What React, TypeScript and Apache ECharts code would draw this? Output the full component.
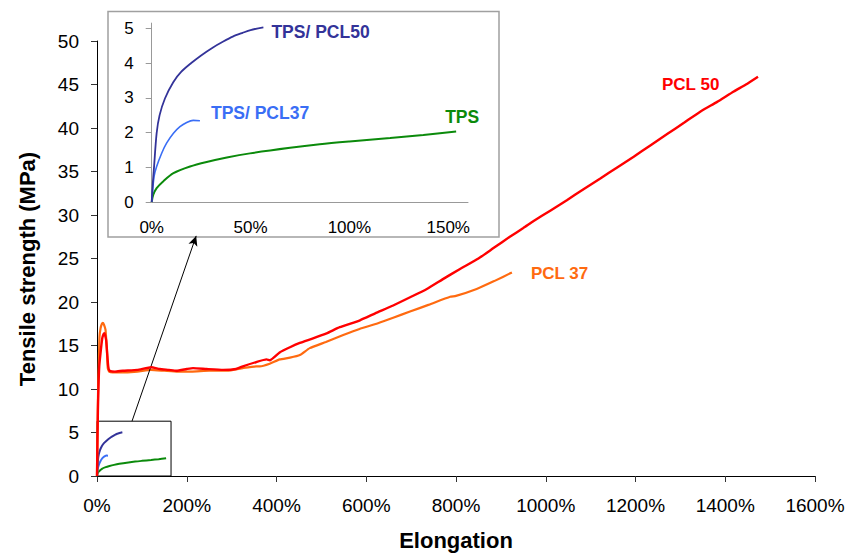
import React, { useEffect, useRef } from "react";
import * as echarts from "echarts";

// Axis ticks
const mainXTicks = [0, 200, 400, 600, 800, 1000, 1200, 1400, 1600];
const mainYTicks = [0, 5, 10, 15, 20, 25, 30, 35, 40, 45, 50];
const insetXTicks = [0, 50, 100, 150];
const insetYTicks = [0, 1, 2, 3, 4, 5];

// Stress-strain curves: [elongation %, tensile strength MPa]
const pcl50: [number, number][] = [
  [0, 0], [1, 4], [2, 7.5], [3.3, 10.3], [5, 12.6], [7.8, 14.1], [11.6, 15.8], [14.5, 16.3], [16.7, 16.4],
  [18.5, 16.1], [20.5, 15.6], [22.7, 14.1], [25, 12.6], [28, 12.1], [40, 12.0], [57.6, 12.1],
  [90, 12.2], [121, 12.5], [139.5, 12.3], [160, 12.2], [176.8, 12.1], [200, 12.3], [214, 12.4],
  [244, 12.3], [281, 12.2], [310, 12.3], [325, 12.6], [355, 13.1], [377.7, 13.4], [385, 13.3],
  [407, 14.2], [430, 14.8], [452, 15.3], [480, 15.8], [511.6, 16.4], [541, 17.1], [586, 17.9],
  [620, 18.7], [660, 19.6], [700, 20.6], [735, 21.5], [770, 22.6], [809, 23.8], [850, 25.0],
  [883.5, 26.2], [920, 27.5], [950, 28.5], [973, 29.3], [1010, 30.5], [1047, 31.7],
  [1085, 33.0], [1121.6, 34.2], [1160, 35.5], [1196, 36.7], [1233, 38.0], [1270.5, 39.3],
  [1308, 40.6], [1345, 41.9], [1382, 43.0], [1419, 44.2], [1446, 45.0], [1473, 45.9],
];

const pcl37: [number, number][] = [
  [0, 0], [1, 4.5], [2, 8.5], [3, 11.2], [4, 13.0], [5.6, 16.0], [8, 17.0], [11, 17.5], [13, 17.6],
  [15.5, 17.4], [19, 16.8], [22, 14.5], [24, 12.4], [27, 12.0], [50, 11.9], [90, 12.0],
  [120, 12.2], [150, 12.1], [180, 12.0], [210, 12.0], [250, 12.1], [290, 12.1], [325, 12.4],
  [355, 12.6], [362.7, 12.6], [385, 12.9], [407, 13.4], [430, 13.6], [452, 13.9], [474, 14.7],
  [510, 15.4], [548.7, 16.2], [585, 16.9], [623, 17.5], [660, 18.2], [697.5, 18.9],
  [740, 19.7], [787, 20.6], [800, 20.7], [846, 21.5], [885, 22.4], [924.6, 23.4],
];

const tpsPcl50: [number, number][] = [
  [0, 0], [0.5, 0.5], [1.2, 1.02], [2.5, 1.98], [4, 2.5], [6.7, 2.98], [10.9, 3.45], [15, 3.75],
  [20, 4.0], [25, 4.22], [31, 4.45], [36.2, 4.62], [41, 4.76], [46, 4.87], [50, 4.95], [56.5, 5.03],
];

const tpsPcl37: [number, number][] = [
  [0, 0], [1.2, 0.74], [2.5, 1.02], [5.1, 1.41], [7.6, 1.7], [11, 1.98], [14.3, 2.17],
  [17.7, 2.29], [21, 2.35], [24.4, 2.34],
];

const tps: [number, number][] = [
  [0, 0], [0.8, 0.21], [2.5, 0.4], [5.9, 0.6], [11, 0.83], [19.4, 1.02], [27.8, 1.15],
  [38, 1.28], [49.7, 1.4], [70, 1.56], [85, 1.66], [100, 1.74], [120.6, 1.84], [137.4, 1.93],
  [154, 2.03],
];

const FONT = "'Liberation Sans', Arial, Helvetica, sans-serif";
const RED = "#ff0000";
const ORANGE = "#ff6a10";
const NAVY = "#333399";
const BLUE = "#3a6ef5";
const GREEN = "#0b8a0b";

export default function App() {
  const ref = useRef<HTMLDivElement | null>(null);

  useEffect(() => {
    if (!ref.current) return;
    const chart = echarts.init(ref.current, null, { renderer: "svg" });

    const mainLabel = { fontFamily: FONT, fontSize: 19, color: "#000" };
    const insetLabel = { fontFamily: FONT, fontSize: 17, color: "#000" };
    const titleStyle = { fontFamily: FONT, fontSize: 22, fontWeight: "bold" as const, color: "#000" };

    const endLab = (text: string, color: string, offset: [number, number], size: number) => ({
      show: true,
      formatter: text,
      color,
      fontFamily: FONT,
      fontWeight: "bold" as const,
      fontSize: size,
      offset,
    });

    const curve = { type: "line" as const, showSymbol: false, smooth: 0.3 };

    chart.setOption({
      animation: false,
      backgroundColor: "#fff",
      textStyle: { fontFamily: FONT },
      grid: [
        { left: 97, right: 43, top: 41, bottom: 75 },
        { left: 151.7, right: 390, top: 23.1, bottom: 354 },
      ],
      xAxis: [
        {
          gridIndex: 0,
          type: "value",
          min: 0,
          max: 1600,
          interval: 200,
          name: "Elongation",
          nameLocation: "middle",
          nameGap: 53,
          nameTextStyle: titleStyle,
          splitLine: { show: false },
          axisLine: { lineStyle: { color: "#000", width: 1 } },
          axisTick: { show: true, length: 6, lineStyle: { color: "#333" }, customValues: mainXTicks },
          axisLabel: { ...mainLabel, margin: 20, customValues: mainXTicks, formatter: (v: number) => `${v}%` },
        },
        {
          gridIndex: 1,
          type: "value",
          min: 0,
          max: 160,
          splitLine: { show: false },
          axisLine: { lineStyle: { color: "#999", width: 1 } },
          axisTick: { show: false },
          axisLabel: { ...insetLabel, margin: 17, customValues: insetXTicks, formatter: (v: number) => `${v}%` },
        },
      ],
      yAxis: [
        {
          gridIndex: 0,
          type: "value",
          min: 0,
          max: 50,
          interval: 5,
          splitLine: { show: false },
          axisLine: { show: true, lineStyle: { color: "#000", width: 1 } },
          axisTick: { show: true, length: 6, lineStyle: { color: "#333" }, customValues: mainYTicks },
          axisLabel: { ...mainLabel, margin: 18, customValues: mainYTicks },
        },
        {
          gridIndex: 1,
          type: "value",
          min: 0,
          max: 5.15,
          splitLine: { show: false },
          axisLine: { show: true, lineStyle: { color: "#999", width: 1 } },
          axisTick: { show: true, length: 6, lineStyle: { color: "#999" }, customValues: insetYTicks },
          axisLabel: { ...insetLabel, margin: 18, customValues: insetYTicks },
        },
      ],
      graphic: [
        {
          type: "rect",
          z: -10,
          shape: { x: 108, y: 11.5, width: 391, height: 225.5 },
          style: { fill: "#fff", stroke: "#a0a0a0", lineWidth: 1.5 },
        },
        {
          type: "text",
          x: 27,
          y: 269,
          rotation: Math.PI / 2,
          style: {
            text: "Tensile strength (MPa)",
            fill: "#000",
            font: `bold 22px ${FONT}`,
            align: "center",
            verticalAlign: "middle",
          },
        },
      ],
      series: [
        // low-strain curves at full scale
        {
          ...curve, xAxisIndex: 0, yAxisIndex: 0, data: tps,
          lineStyle: { color: GREEN, width: 2 }, z: 3,
          markArea: {
            silent: true,
            itemStyle: { color: "rgba(0,0,0,0)", borderColor: "#000", borderWidth: 1 },
            data: [[{ coord: [0, 0] }, { coord: [165, 6.3] }]],
          },
          markLine: {
            silent: true,
            symbol: ["none", "arrow"],
            symbolSize: [7, 10],
            label: { show: false },
            lineStyle: { color: "#000", width: 1, type: "solid" },
            data: [[{ coord: [78, 6.3] }, { coord: [221, 27.6] }]],
          },
        },
        { ...curve, xAxisIndex: 0, yAxisIndex: 0, data: tpsPcl37, lineStyle: { color: BLUE, width: 2 }, z: 3 },
        { ...curve, xAxisIndex: 0, yAxisIndex: 0, data: tpsPcl50, lineStyle: { color: NAVY, width: 2 }, z: 3 },
        {
          ...curve, name: "PCL 37", xAxisIndex: 0, yAxisIndex: 0, data: pcl37, smooth: 0.15,
          lineStyle: { color: ORANGE, width: 2.2 }, z: 4,
          endLabel: endLab("PCL 37", ORANGE, [11, 1], 17),
        },
        {
          ...curve, name: "PCL 50", xAxisIndex: 0, yAxisIndex: 0, data: pcl50, smooth: 0.15,
          lineStyle: { color: RED, width: 2.4 }, z: 5,
          endLabel: endLab("PCL 50", RED, [-104, 8], 17),
        },
        // inset, zoomed on the first 160 %
        {
          ...curve, name: "TPS", xAxisIndex: 1, yAxisIndex: 1, data: tps,
          lineStyle: { color: GREEN, width: 2 }, z: 6,
          endLabel: endLab("TPS", GREEN, [-19, -14], 17.5),
        },
        {
          ...curve, name: "TPS/ PCL37", xAxisIndex: 1, yAxisIndex: 1, data: tpsPcl37,
          lineStyle: { color: BLUE, width: 1.6 }, z: 6,
          endLabel: endLab("TPS/ PCL37", BLUE, [3, -8], 17.5),
        },
        {
          ...curve, name: "TPS/ PCL50", xAxisIndex: 1, yAxisIndex: 1, data: tpsPcl50,
          lineStyle: { color: NAVY, width: 1.8 }, z: 6,
          endLabel: endLab("TPS/ PCL50", NAVY, [0, 5], 17.5),
        },
      ],
    });

    return () => chart.dispose();
  }, []);

  return (
    <div
      ref={ref}
      style={{ position: "fixed", left: 0, top: 0, width: 858, height: 556, background: "#fff" }}
    />
  );
}
